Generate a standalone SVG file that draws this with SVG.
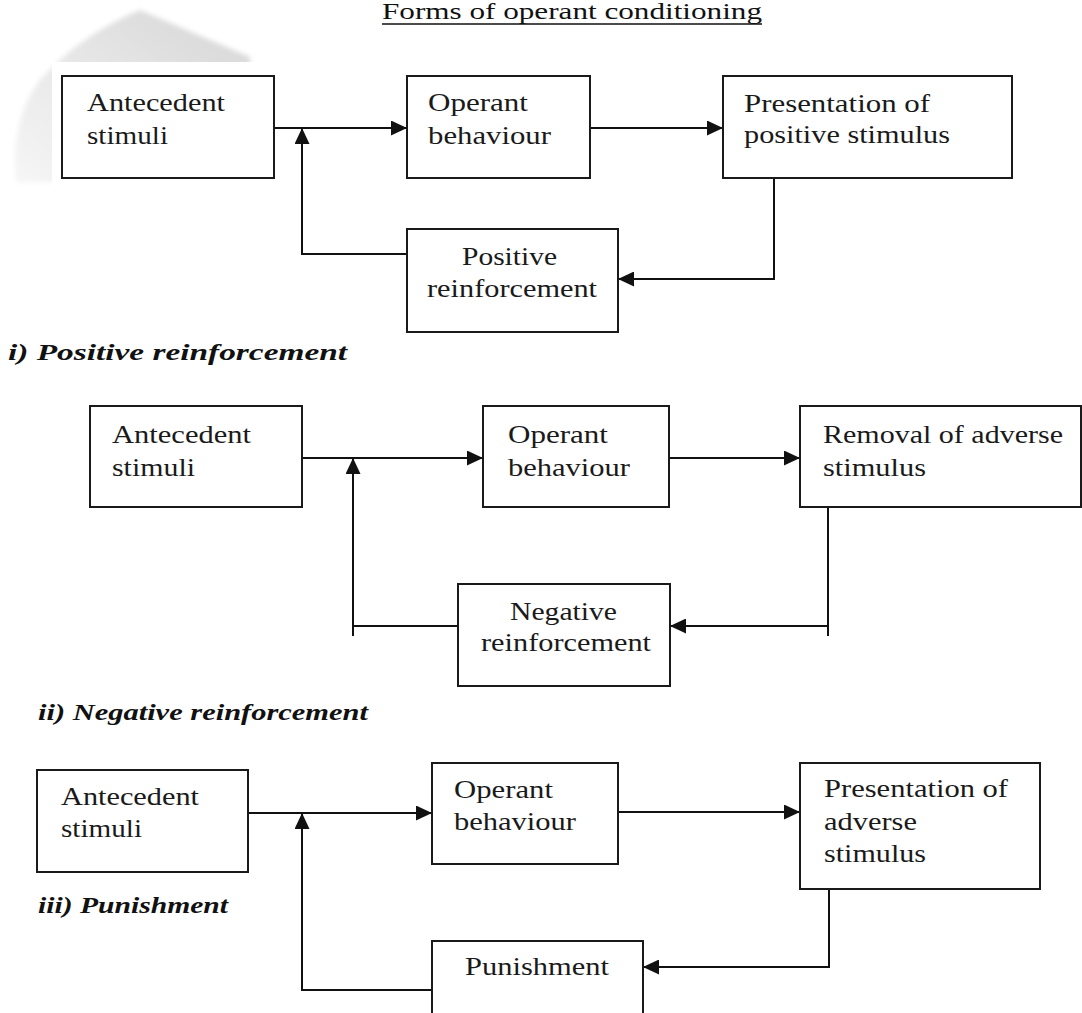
<svg xmlns="http://www.w3.org/2000/svg" width="1082" height="1013" viewBox="0 0 1082 1013">
  <defs>
    <marker id="arrow" viewBox="0 0 16 15" refX="16" refY="7.5" markerWidth="16" markerHeight="15" markerUnits="userSpaceOnUse" orient="auto">
      <path d="M0,0 L16,7.5 L0,15 Z" fill="#111"/>
    </marker>
    <linearGradient id="curl" x1="1" y1="0" x2="0" y2="1">
      <stop offset="0" stop-color="#d6d6d6"/>
      <stop offset="0.5" stop-color="#e6e6e6"/>
      <stop offset="1" stop-color="#f6f6f6"/>
    </linearGradient>
    <filter id="soft" x="-10%" y="-10%" width="120%" height="120%">
      <feGaussianBlur stdDeviation="2.5"/>
    </filter>
    <style>
      .box { fill: #fff; stroke: #1a1a1a; stroke-width: 2; }
      .wire { fill: none; stroke: #111; stroke-width: 2; }
      .t { font-family: "Liberation Serif", "Times New Roman", serif; font-size: 26px; fill: #1a1a1a; }
      .cap { font-family: "Liberation Serif", "Times New Roman", serif; font-size: 24px; font-weight: bold; font-style: italic; fill: #111; }
      .title { font-family: "Liberation Serif", "Times New Roman", serif; font-size: 24px; fill: #111; }
    </style>
  </defs>

  <rect width="1082" height="1013" fill="#fff"/>

  <!-- faint grey sheet in the top-left corner -->
  <path d="M140,10 L250,57 L250,182 L16,182 Q10,120 40,80 Q80,35 140,10 Z" fill="url(#curl)" filter="url(#soft)"/>
  <rect x="52" y="62" width="228" height="124" fill="#fff"/>

  <!-- title -->
  <g id="title">
    <text class="title" x="382" y="19" textLength="380" lengthAdjust="spacingAndGlyphs">Forms of operant conditioning</text>
    <line x1="382" y1="24" x2="762" y2="24" stroke="#111" stroke-width="1.6"/>
  </g>

  <!-- section captions -->
  <text id="cap-positive" class="cap" x="8" y="360" textLength="339" lengthAdjust="spacingAndGlyphs">i) Positive reinforcement</text>
  <text id="cap-negative" class="cap" x="38" y="720" textLength="330" lengthAdjust="spacingAndGlyphs">ii) Negative reinforcement</text>
  <text id="cap-punishment" class="cap" x="38" y="913" textLength="190" lengthAdjust="spacingAndGlyphs">iii) Punishment</text>

  <!-- connectors -->
  <g id="connectors" class="wire">
    <!-- i) positive reinforcement -->
    <path class="wire" d="M274,128 H407" marker-end="url(#arrow)"/>
    <path class="wire" d="M590,128 H723" marker-end="url(#arrow)"/>
    <path class="wire" d="M774,178 V279 H618" marker-end="url(#arrow)"/>
    <path class="wire" d="M407,254 H302 V128" marker-end="url(#arrow)"/>
    <!-- ii) negative reinforcement -->
    <path class="wire" d="M302,458 H483" marker-end="url(#arrow)"/>
    <path class="wire" d="M669,458 H800" marker-end="url(#arrow)"/>
    <path class="wire" d="M828,507 V636"/>
    <path class="wire" d="M828,626 H670" marker-end="url(#arrow)"/>
    <path class="wire" d="M458,626 H353"/>
    <path class="wire" d="M353,636 V458" marker-end="url(#arrow)"/>
    <!-- iii) punishment -->
    <path class="wire" d="M248,813 H432" marker-end="url(#arrow)"/>
    <path class="wire" d="M618,812 H800" marker-end="url(#arrow)"/>
    <path class="wire" d="M829,889 V967 H643" marker-end="url(#arrow)"/>
    <path class="wire" d="M432,990 H302 V813" marker-end="url(#arrow)"/>
  </g>

  <!-- i) positive reinforcement -->
  <g id="p-antecedent">
    <rect class="box" x="62" y="76" width="212" height="102"/>
    <text class="t" x="87" y="111" textLength="138" lengthAdjust="spacingAndGlyphs">Antecedent</text>
    <text class="t" x="87" y="144" textLength="81" lengthAdjust="spacingAndGlyphs">stimuli</text>
  </g>
  <g id="p-operant">
    <rect class="box" x="407" y="76" width="183" height="102"/>
    <text class="t" x="428" y="111" textLength="100" lengthAdjust="spacingAndGlyphs">Operant</text>
    <text class="t" x="428" y="144" textLength="123" lengthAdjust="spacingAndGlyphs">behaviour</text>
  </g>
  <g id="p-presentation">
    <rect class="box" x="723" y="76" width="289" height="102"/>
    <text class="t" x="744" y="112" textLength="186" lengthAdjust="spacingAndGlyphs">Presentation of</text>
    <text class="t" x="744" y="143" textLength="206" lengthAdjust="spacingAndGlyphs">positive stimulus</text>
  </g>
  <g id="p-reinforcement">
    <rect class="box" x="407" y="229" width="211" height="103"/>
    <text class="t" x="462" y="265" textLength="95" lengthAdjust="spacingAndGlyphs">Positive</text>
    <text class="t" x="427" y="297" textLength="170" lengthAdjust="spacingAndGlyphs">reinforcement</text>
  </g>

  <!-- ii) negative reinforcement -->
  <g id="n-antecedent">
    <rect class="box" x="90" y="406" width="212" height="101"/>
    <text class="t" x="112" y="443" textLength="139" lengthAdjust="spacingAndGlyphs">Antecedent</text>
    <text class="t" x="112" y="476" textLength="83" lengthAdjust="spacingAndGlyphs">stimuli</text>
  </g>
  <g id="n-operant">
    <rect class="box" x="483" y="406" width="186" height="101"/>
    <text class="t" x="508" y="443" textLength="100" lengthAdjust="spacingAndGlyphs">Operant</text>
    <text class="t" x="508" y="476" textLength="122" lengthAdjust="spacingAndGlyphs">behaviour</text>
  </g>
  <g id="n-removal">
    <rect class="box" x="800" y="406" width="281" height="101"/>
    <text class="t" x="823" y="443" textLength="240" lengthAdjust="spacingAndGlyphs">Removal of adverse</text>
    <text class="t" x="823" y="476" textLength="103" lengthAdjust="spacingAndGlyphs">stimulus</text>
  </g>
  <g id="n-reinforcement">
    <rect class="box" x="458" y="584" width="212" height="102"/>
    <text class="t" x="510" y="620" textLength="107" lengthAdjust="spacingAndGlyphs">Negative</text>
    <text class="t" x="481" y="651" textLength="170" lengthAdjust="spacingAndGlyphs">reinforcement</text>
  </g>

  <!-- iii) punishment -->
  <g id="u-antecedent">
    <rect class="box" x="37" y="770" width="211" height="102"/>
    <text class="t" x="61" y="805" textLength="138" lengthAdjust="spacingAndGlyphs">Antecedent</text>
    <text class="t" x="61" y="837" textLength="81" lengthAdjust="spacingAndGlyphs">stimuli</text>
  </g>
  <g id="u-operant">
    <rect class="box" x="432" y="763" width="186" height="101"/>
    <text class="t" x="454" y="798" textLength="99" lengthAdjust="spacingAndGlyphs">Operant</text>
    <text class="t" x="454" y="830" textLength="122" lengthAdjust="spacingAndGlyphs">behaviour</text>
  </g>
  <g id="u-presentation">
    <rect class="box" x="800" y="763" width="240" height="126"/>
    <text class="t" x="824" y="797" textLength="184" lengthAdjust="spacingAndGlyphs">Presentation of</text>
    <text class="t" x="824" y="830" textLength="93" lengthAdjust="spacingAndGlyphs">adverse</text>
    <text class="t" x="824" y="862" textLength="102" lengthAdjust="spacingAndGlyphs">stimulus</text>
  </g>
  <g id="u-punishment">
    <rect class="box" x="432" y="941" width="211" height="90"/>
    <text class="t" x="465" y="975" textLength="144" lengthAdjust="spacingAndGlyphs">Punishment</text>
  </g>
</svg>
